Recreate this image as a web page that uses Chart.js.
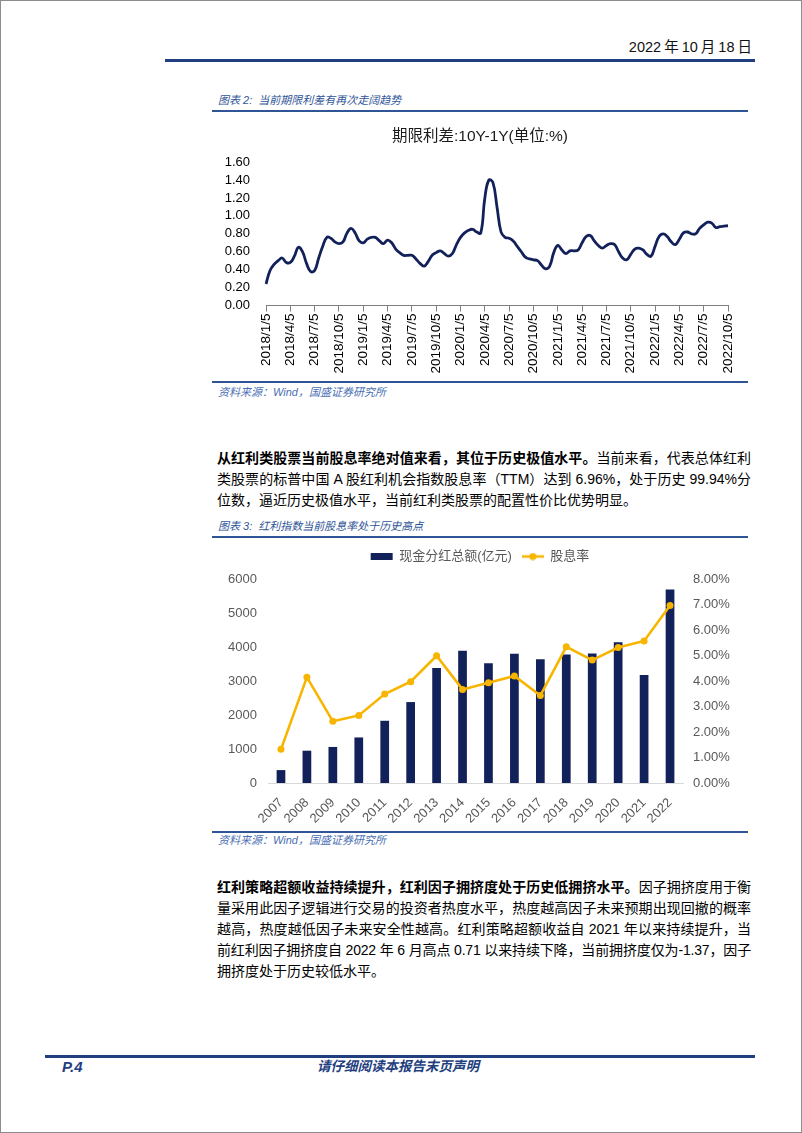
<!DOCTYPE html>
<html lang="zh-CN">
<head>
<meta charset="utf-8">
<title>期限利差与红利指数股息率</title>
<script src="https://cdn.jsdelivr.net/npm/chart.js@4.4.0/dist/chart.umd.min.js"></script>
<style>
    html, body { margin: 0; padding: 0; background: #fff; }
    body { width: 802px; height: 1133px; position: relative; overflow: hidden;
           font-family: "Liberation Sans", "Noto Sans CJK SC", sans-serif; color: #000; }
    .frame { position: absolute; left: 0; top: 0; width: 800px; height: 1131px; border: 1px solid #8c8c8c; }
    .rule { position: absolute; background: #1f3f7f; }
    .thin { background: #2f5597; }
    .cap, .src { position: absolute; left: 218px; font-size: 11px; line-height: 14px; font-style: italic; white-space: nowrap; }
    .cap { color: #2f5597; }
    .src { color: #4a6fb5; }
    .date { position: absolute; right: 50px; top: 37px; font-size: 14.5px; line-height: 20px; word-spacing: -1px; color: #111; }
    .para { position: absolute; left: 217px; width: 534px; font-size: 14px; }
    .para div { height: 21px; line-height: 21px; white-space: nowrap; text-align: justify; text-align-last: justify; }
    .para div.last { text-align: left; text-align-last: left; }
    .para div.tight { letter-spacing: -0.2px; }
    .para b { font-weight: 700; }
    .foot { position: absolute; top: 1058px; font-size: 15px; line-height: 18px; font-weight: 700; font-style: italic; color: #1f3f7f; }
    canvas { position: absolute; }
</style>
</head>
<body>
<div class="frame"></div>

<div class="date">2022 年 10 月 18 日</div>
<div class="rule" style="left:165px; top:59px; width:590px; height:3px;"></div>

<div class="cap" style="top:93px;">图表 2:&nbsp; 当前期限利差有再次走阔趋势</div>
<div class="rule thin" style="left:212px; top:110px; width:536px; height:1.5px;"></div>
<canvas id="spread-chart" width="550" height="260" style="left:205px; top:118px;"></canvas>
<div class="rule thin" style="left:212px; top:381px; width:536px; height:1.5px;"></div>
<div class="src" style="top:385px;">资料来源：Wind，国盛证券研究所</div>

<div class="para" style="top:448px;">
    <div><b>从红利类股票当前股息率绝对值来看，其位于历史极值水平。</b>当前来看，代表总体红利</div>
    <div>类股票的标普中国 A 股红利机会指数股息率（TTM）达到 6.96%，处于历史 99.94%分</div>
    <div class="last">位数，逼近历史极值水平，当前红利类股票的配置性价比优势明显。</div>
</div>

<div class="cap" style="top:519px;">图表 3:&nbsp; 红利指数当前股息率处于历史高点</div>
<div class="rule thin" style="left:212px; top:536px; width:536px; height:1.5px;"></div>
<canvas id="dividend-chart" width="550" height="290" style="left:205px; top:540px;"></canvas>
<div class="rule thin" style="left:212px; top:831px; width:536px; height:1.5px;"></div>
<div class="src" style="top:833px;">资料来源：Wind，国盛证券研究所</div>

<div class="para" style="top:877px;">
    <div><b>红利策略超额收益持续提升，红利因子拥挤度处于历史低拥挤水平。</b>因子拥挤度用于衡</div>
    <div>量采用此因子逻辑进行交易的投资者热度水平，热度越高因子未来预期出现回撤的概率</div>
    <div>越高，热度越低因子未来安全性越高。红利策略超额收益自 2021 年以来持续提升，当</div>
    <div class="tight">前红利因子拥挤度自 2022 年 6 月高点 0.71 以来持续下降，当前拥挤度仅为-1.37，因子</div>
    <div class="last">拥挤度处于历史较低水平。</div>
</div>

<div class="rule" style="left:45px; top:1055px; width:710px; height:3px;"></div>
<div class="foot" style="left:62px;">P.4</div>
<div class="foot" style="left:0; width:796px; text-align:center; font-size:13.5px;">请仔细阅读本报告末页声明</div>

<script>
// 期限利差 10Y-1Y，半月一个点，2018/1/5 - 2022/10/5
var spreadTicks = ['2018/1/5', '2018/4/5', '2018/7/5', '2018/10/5', '2019/1/5', '2019/4/5', '2019/7/5',
    '2019/10/5', '2020/1/5', '2020/4/5', '2020/7/5', '2020/10/5', '2021/1/5', '2021/4/5', '2021/7/5',
    '2021/10/5', '2022/1/5', '2022/4/5', '2022/7/5', '2022/10/5'];
var spreadValues = [
    0.24, 0.39, 0.46, 0.50, 0.53, 0.48, 0.48, 0.55, 0.65, 0.60, 0.47, 0.38,
    0.39, 0.53, 0.66, 0.76, 0.75, 0.71, 0.69, 0.71, 0.81, 0.86, 0.81, 0.72,
    0.70, 0.74, 0.76, 0.76, 0.72, 0.69, 0.73, 0.70, 0.63, 0.59, 0.56, 0.56,
    0.56, 0.52, 0.47, 0.44, 0.49, 0.56, 0.59, 0.61, 0.58, 0.55, 0.58, 0.68,
    0.76, 0.81, 0.84, 0.85, 0.82, 0.81, 1.20, 1.40, 1.37, 1.10, 0.82, 0.76,
    0.75, 0.72, 0.66, 0.60, 0.54, 0.52, 0.51, 0.50, 0.45, 0.41, 0.44, 0.59,
    0.67, 0.62, 0.58, 0.61, 0.61, 0.62, 0.70, 0.77, 0.78, 0.72, 0.67, 0.64,
    0.67, 0.69, 0.68, 0.60, 0.53, 0.51, 0.57, 0.63, 0.64, 0.62, 0.57, 0.55,
    0.66, 0.77, 0.80, 0.77, 0.71, 0.68, 0.74, 0.81, 0.82, 0.80, 0.80, 0.86,
    0.90, 0.93, 0.92, 0.87, 0.88, 0.885, 0.89
];
var spreadTicksEvery = 6;

// 红利指数：现金分红总额(亿元) 与 股息率(%)
var years = ['2007', '2008', '2009', '2010', '2011', '2012', '2013', '2014',
    '2015', '2016', '2017', '2018', '2019', '2020', '2021', '2022'];
var cashDividend = [380, 950, 1060, 1340, 1830, 2380, 3380, 3890, 3520, 3800, 3640, 3780, 3810, 4140, 3180, 5690];
var dividendYield = [1.32, 4.15, 2.42, 2.65, 3.49, 3.97, 4.99, 3.67, 3.93, 4.20, 3.43, 5.34, 4.82, 5.31, 5.57, 6.96];

var FONT = "'Liberation Sans', 'Noto Sans CJK SC', sans-serif";
var NAVY = '#13215a';
var GOLD = '#f7b500';
var GREY = '#595959';

// la leyenda necesita un poco mas de aire debajo
var legendGap = {
    id: 'legendGap',
    beforeLayout: function (chart) {
        var lg = chart.legend;
        if (lg && !lg._gapDone) {
            var fit = lg.fit;
            lg.fit = function () { fit.call(this); this.height += 6; };
            lg._gapDone = true;
        }
    }
};

function etiquetasSpread() {
    var labels = [];
    for (var i = 0; i < spreadValues.length; i++) {
        labels.push(i % spreadTicksEvery === 0 ? spreadTicks[i / spreadTicksEvery] : '');
    }
    return labels;
}

function iconoLinea() {
    var c = document.createElement('canvas');
    c.width = 22;
    c.height = 8;
    var g = c.getContext('2d');
    g.strokeStyle = GOLD;
    g.lineWidth = 2.5;
    g.beginPath(); g.moveTo(0, 4); g.lineTo(22, 4); g.stroke();
    g.fillStyle = GOLD;
    g.beginPath(); g.arc(11, 4, 3.5, 0, Math.PI * 2); g.fill();
    return c;
}

function pintarSpread(destino) {
    var ctx = document.getElementById(destino).getContext('2d');
    new Chart(ctx, {
        type: 'line',
        data: {
            labels: etiquetasSpread(),
            datasets: [{
                data: spreadValues,
                borderColor: NAVY,
                borderWidth: 2.8,
                pointRadius: 0,
                tension: 0.45,
                fill: false
            }]
        },
        options: {
            responsive: false,
            animation: false,
            devicePixelRatio: 1,
            layout: { padding: { top: 0, right: 0, bottom: 2, left: 0 } },
            plugins: {
                legend: { display: false },
                tooltip: { enabled: false },
                title: {
                    display: true,
                    text: '期限利差:10Y-1Y(单位:%)',
                    color: '#1a1a1a',
                    font: { family: FONT, size: 15.5, weight: 'normal' },
                    padding: { top: 9, bottom: 16.5 }
                }
            },
            scales: {
                x: {
                    grid: { display: true, drawOnChartArea: false, drawTicks: true, tickLength: 6, color: '#7f7f7f' },
                    border: { display: true, color: '#7f7f7f' },
                    ticks: { autoSkip: false, minRotation: 90, maxRotation: 90, padding: 2, color: '#000', font: { family: FONT, size: 13.5 } },
                    afterBuildTicks: function (axis) {
                        axis.ticks = axis.ticks.filter(function (t) { return t.value % spreadTicksEvery === 0; });
                    },
                    afterFit: function (axis) { axis.height = 70.5; }
                },
                y: {
                    min: 0,
                    max: 1.6,
                    grid: { display: false, drawTicks: false },
                    border: { display: false },
                    ticks: {
                        stepSize: 0.2,
                        autoSkip: false,
                        padding: 16,
                        color: '#000',
                        font: { family: FONT, size: 13 },
                        callback: function (v) { return Number(v).toFixed(2); }
                    },
                    afterFit: function (axis) { axis.width = 61; }
                },
                // eje vacio a la derecha, solo para dejar el margen
                margen: {
                    position: 'right',
                    grid: { display: false, drawTicks: false },
                    border: { display: false },
                    ticks: { display: false },
                    afterFit: function (axis) { axis.width = 27; }
                }
            }
        }
    });
}

function pintarDividendos(destino) {
    var ctx = document.getElementById(destino).getContext('2d');
    new Chart(ctx, {
        type: 'bar',
        data: {
            labels: years,
            datasets: [
                {
                    type: 'bar',
                    label: '现金分红总额(亿元)',
                    data: cashDividend,
                    backgroundColor: NAVY,
                    yAxisID: 'y',
                    order: 1,
                    barPercentage: 0.48,
                    categoryPercentage: 0.7
                },
                {
                    type: 'line',
                    label: '股息率',
                    data: dividendYield,
                    borderColor: GOLD,
                    backgroundColor: GOLD,
                    borderWidth: 2.6,
                    pointRadius: 3.5,
                    pointBorderWidth: 0,
                    pointBackgroundColor: GOLD,
                    tension: 0,
                    yAxisID: 'y1',
                    order: 0
                }
            ]
        },
        options: {
            responsive: false,
            animation: false,
            devicePixelRatio: 1,
            layout: { padding: { top: 0, right: 0, bottom: 2, left: 0 } },
            plugins: {
                tooltip: { enabled: false },
                legend: {
                    position: 'top',
                    labels: {
                        usePointStyle: true,
                        pointStyleWidth: 22,
                        boxHeight: 7,
                        padding: 10,
                        color: GREY,
                        font: { family: FONT, size: 13 },
                        generateLabels: function (chart) {
                            var items = Chart.defaults.plugins.legend.labels.generateLabels(chart);
                            items.forEach(function (it) {
                                it.pointStyle = it.datasetIndex === 0 ? 'rect' : iconoLinea();
                                it.lineWidth = 0;
                            });
                            return items.sort(function (a, b) { return a.datasetIndex - b.datasetIndex; });
                        }
                    }
                }
            },
            scales: {
                x: {
                    grid: { display: false },
                    border: { display: true, color: '#d9d9d9' },
                    ticks: { autoSkip: false, minRotation: 45, maxRotation: 45, padding: 4, color: GREY, font: { family: FONT, size: 13 } },
                    afterFit: function (axis) { axis.height = 45; }
                },
                y: {
                    position: 'left',
                    min: 0,
                    max: 6000,
                    grid: { display: false, drawTicks: false },
                    border: { display: false },
                    ticks: {
                        stepSize: 1000,
                        autoSkip: false,
                        padding: 11,
                        color: GREY,
                        font: { family: FONT, size: 13 },
                        callback: function (v) { return String(v); }
                    },
                    afterFit: function (axis) { axis.width = 63; }
                },
                y1: {
                    position: 'right',
                    min: 0,
                    max: 8,
                    grid: { display: false, drawTicks: false },
                    border: { display: false },
                    ticks: {
                        stepSize: 1,
                        autoSkip: false,
                        padding: 10,
                        color: GREY,
                        font: { family: FONT, size: 13 },
                        callback: function (v) { return Number(v).toFixed(2) + '%'; }
                    },
                    afterFit: function (axis) { axis.width = 72; }
                }
            }
        },
        plugins: [legendGap]
    });
}

pintarSpread('spread-chart');
pintarDividendos('dividend-chart');
</script>
</body>
</html>
